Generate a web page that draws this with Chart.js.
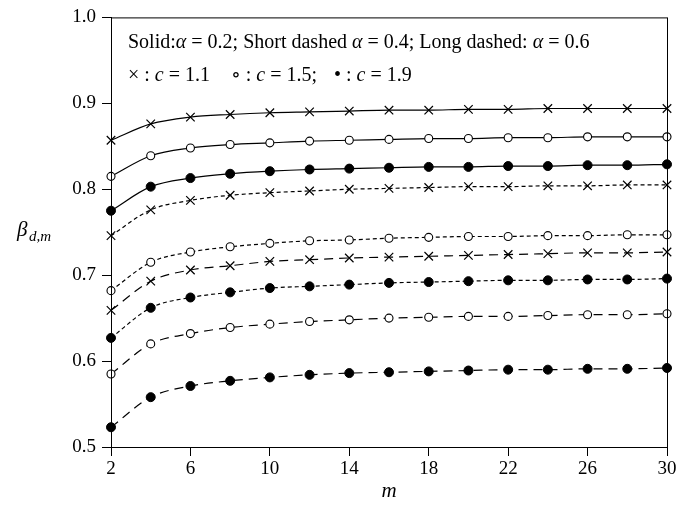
<!DOCTYPE html>
<html><head><meta charset="utf-8">
<script src="https://cdn.jsdelivr.net/npm/chart.js@4"></script>
<style>html,body{margin:0;padding:0;background:#fff}</style>
</head><body>
<canvas id="c" width="687" height="506"></canvas>
<script>
const mValues = [2,4,6,8,10,12,14,16,18,20,22,24,26,28,30];
const xTickLabels = [2,6,10,14,18,22,26,30];
const yTickLabels = [0.5,0.6,0.7,0.8,0.9,1.0];

// alpha = 0.2 (solid)
const a02_c11 = [0.857,0.876,0.884,0.887,0.889,0.890,0.891,0.892,0.892,0.893,0.893,0.894,0.894,0.894,0.894];
const a02_c15 = [0.815,0.839,0.848,0.852,0.854,0.856,0.857,0.858,0.859,0.859,0.860,0.860,0.861,0.861,0.861];
const a02_c19 = [0.775,0.803,0.813,0.818,0.821,0.823,0.824,0.825,0.826,0.826,0.827,0.827,0.828,0.828,0.829];
// alpha = 0.4 (short dashed)
const a04_c11 = [0.746,0.776,0.787,0.793,0.796,0.798,0.800,0.801,0.802,0.803,0.803,0.804,0.804,0.805,0.805];
const a04_c15 = [0.682,0.715,0.727,0.733,0.737,0.740,0.741,0.743,0.744,0.745,0.745,0.746,0.746,0.747,0.747];
const a04_c19 = [0.627,0.662,0.674,0.680,0.685,0.687,0.689,0.691,0.692,0.693,0.694,0.694,0.695,0.695,0.696];
// alpha = 0.6 (long dashed)
const a06_c11 = [0.659,0.693,0.706,0.711,0.716,0.718,0.720,0.721,0.722,0.723,0.724,0.725,0.726,0.726,0.727];
const a06_c15 = [0.585,0.620,0.632,0.639,0.643,0.646,0.648,0.650,0.651,0.652,0.652,0.653,0.654,0.654,0.655];
const a06_c19 = [0.523,0.558,0.571,0.577,0.581,0.584,0.586,0.587,0.588,0.589,0.590,0.590,0.591,0.591,0.592];

const SERIF = "'Liberation Serif','DejaVu Serif',serif";
const dashes = {solid: [], short: [4,3], long: [9,6]};
const markers = {
  c11: {pointStyle:'crossRot', pointRadius:6, pointBackgroundColor:'#000', pointBorderWidth:1.2},
  c15: {pointStyle:'circle', pointRadius:4, pointBackgroundColor:'#fff', pointBorderWidth:1.1},
  c19: {pointStyle:'circle', pointRadius:4.5, pointBackgroundColor:'#000', pointBorderWidth:1}
};
function ds(values, dash, mk){
  return Object.assign({
    data: mValues.map((m,i)=>({x:m, y:values[i]})),
    borderColor:'#000', borderWidth:1.2, borderDash: dashes[dash],
    pointBorderColor:'#000', cubicInterpolationMode:'monotone', clip:false, fill:false
  }, markers[mk]);
}
const datasets = [
  ds(a02_c11,'solid','c11'), ds(a02_c15,'solid','c15'), ds(a02_c19,'solid','c19'),
  ds(a04_c11,'short','c11'), ds(a04_c15,'short','c15'), ds(a04_c19,'short','c19'),
  ds(a06_c11,'long','c11'), ds(a06_c15,'long','c15'), ds(a06_c19,'long','c19')
];

function drawPieces(ctx, x, y, pieces){
  for (const [t, style, size] of pieces){
    ctx.font = (style==='i'?'italic ':'') + (size||20) + 'px ' + SERIF;
    ctx.fillText(t, x, y);
    x += ctx.measureText(t).width;
  }
  return x;
}

const textPlugin = {
  id:'texts',
  afterDraw(chart){
    const ctx = chart.ctx, a = chart.chartArea;
    ctx.save();
    ctx.strokeStyle = '#000'; ctx.lineWidth = 1;
    ctx.strokeRect(a.left+0.5, a.top+0.5, a.right-a.left, a.bottom-a.top);
    ctx.fillStyle = '#000'; ctx.textBaseline = 'alphabetic'; ctx.textAlign='left';
    drawPieces(ctx, 128, 48, [['Solid:'],['α','i'],[' = 0.2; Short dashed '],['α','i'],[' = 0.4; Long dashed: '],['α','i'],[' = 0.6']]);
    drawPieces(ctx, 128, 81, [['× : '],['c','i'],[' = 1.1']]);
    drawPieces(ctx, 231, 81, [['∘ : '],['c','i'],[' = 1.5;']]);
    drawPieces(ctx, 334, 81, [['• : '],['c','i'],[' = 1.9']]);
    // y title
    drawPieces(ctx, 17, 236, [['β','i',21]]);
    drawPieces(ctx, 29, 241, [['d,m','i',15]]);
    // x title
    ctx.textAlign='center';
    ctx.font = 'italic 21px ' + SERIF;
    ctx.fillText('m', (a.left+a.right)/2, 497);
    ctx.restore();
  }
};

new Chart(document.getElementById('c'), {
  type:'line',
  data:{datasets},
  options:{
    responsive:false, animation:false,
    layout:{padding:{top:15, right:20, left:0, bottom:0}},
    plugins:{legend:{display:false}, tooltip:{enabled:false}},
    scales:{
      x:{type:'linear', min:2, max:30,
        afterBuildTicks(s){ s.ticks = xTickLabels.map(v=>({value:v})); },
        afterFit(s){ s.height = 59; },
        grid:{drawOnChartArea:false, drawTicks:true, tickLength:9, color:'#000', lineWidth:1},
        border:{display:true, color:'#000', width:1},
        ticks:{color:'#000', font:{family:SERIF, size:19}, padding:2, maxRotation:0, autoSkip:false}
      },
      y:{min:0.5, max:1.0,
        afterBuildTicks(s){ s.ticks = yTickLabels.map(v=>({value:v})); },
        afterFit(s){ s.width = 111; },
        grid:{drawOnChartArea:false, drawTicks:true, tickLength:9, color:'#000', lineWidth:1},
        border:{display:true, color:'#000', width:1},
        ticks:{color:'#000', font:{family:SERIF, size:19}, padding:6, callback:v=>v.toFixed(1)}
      }
    }
  },
  plugins:[textPlugin]
});
</script>
</body></html>
